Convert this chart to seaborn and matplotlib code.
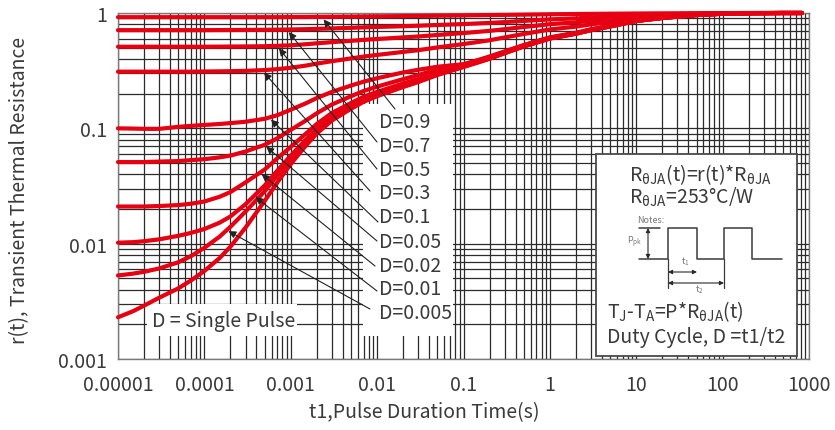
import numpy as np
import pandas as pd
import matplotlib
matplotlib.use("Agg")
import matplotlib.pyplot as plt
from matplotlib.patches import Rectangle
from matplotlib.lines import Line2D
from matplotlib.ticker import FixedLocator, FixedFormatter, LogLocator, NullFormatter
import seaborn as sns

# Pulse duration (s)
pulse_time = [1e-5, 1.5e-5, 2e-5, 3e-5, 5e-5, 7e-5,
              1e-4, 1.5e-4, 2e-4, 3e-4, 5e-4, 7e-4,
              1e-3, 1.5e-3, 2e-3, 3e-3, 5e-3, 7e-3,
              1e-2, 2e-2, 3e-2, 5e-2,
              0.1, 0.2, 0.3, 0.5,
              1, 2, 3, 5, 10, 20, 50, 100, 200, 500, 826]

# Normalised transient thermal resistance r(t) for each duty cycle
r_d090 = [0.92, 0.92, 0.92, 0.92, 0.92, 0.92,
          0.92, 0.92, 0.92, 0.92, 0.92, 0.92,
          0.922, 0.923, 0.925, 0.927, 0.93, 0.933,
          0.935, 0.94, 0.943, 0.947,
          0.953, 0.96, 0.963, 0.968,
          0.975, 0.98, 0.983, 0.986, 0.99, 0.993, 0.996, 0.998, 1.0, 1.0, 1.0]
r_d070 = [0.71, 0.71, 0.71, 0.71, 0.71, 0.71,
          0.71, 0.711, 0.712, 0.713, 0.715, 0.717,
          0.72, 0.724, 0.728, 0.735, 0.744, 0.751,
          0.757, 0.768, 0.776, 0.787,
          0.802, 0.82, 0.834, 0.854,
          0.88, 0.898, 0.913, 0.929, 0.956, 0.972, 0.988, 0.996, 0.999, 1.0, 1.0]
r_d050 = [0.51, 0.51, 0.51, 0.51, 0.51, 0.51,
          0.51, 0.511, 0.512, 0.513, 0.515, 0.519,
          0.525, 0.536, 0.546, 0.559, 0.574, 0.585,
          0.595, 0.614, 0.626, 0.645,
          0.67, 0.70, 0.724, 0.756,
          0.80, 0.83, 0.855, 0.882, 0.926, 0.953, 0.98, 0.993, 0.998, 1.0, 1.0]
r_d030 = [0.31, 0.31, 0.31, 0.31, 0.31, 0.31,
          0.311, 0.312, 0.313, 0.315, 0.32, 0.326,
          0.335, 0.35, 0.364, 0.382, 0.404, 0.419,
          0.433, 0.46, 0.476, 0.503,
          0.538, 0.58, 0.614, 0.658,
          0.72, 0.762, 0.797, 0.835, 0.896, 0.934, 0.972, 0.99, 0.997, 1.0, 1.0]
r_d010 = [0.100, 0.0995, 0.099, 0.099, 0.103, 0.105,
          0.107, 0.109, 0.111, 0.114, 0.121, 0.13,
          0.145, 0.165, 0.183, 0.207, 0.235, 0.254,
          0.272, 0.305, 0.322, 0.342,
          0.36, 0.415, 0.46, 0.525,
          0.612, 0.67, 0.72, 0.772, 0.858, 0.909, 0.962, 0.986, 0.996, 1.0, 1.0]
r_d005 = [0.051, 0.051, 0.051, 0.0515, 0.052, 0.053,
          0.054, 0.056, 0.058, 0.063, 0.072, 0.082,
          0.097, 0.117, 0.135, 0.161, 0.19, 0.211,
          0.23, 0.267, 0.29, 0.325,
          0.355, 0.42, 0.465, 0.528,
          0.615, 0.674, 0.722, 0.776, 0.86, 0.91, 0.962, 0.986, 0.995, 1.0, 1.0]
r_d002 = [0.021, 0.021, 0.021, 0.0212, 0.0216, 0.0222,
          0.0232, 0.0255, 0.028, 0.034, 0.044, 0.055,
          0.069, 0.09, 0.109, 0.136, 0.166, 0.188,
          0.207, 0.245, 0.268, 0.305,
          0.35, 0.41, 0.457, 0.52,
          0.608, 0.667, 0.716, 0.769, 0.855, 0.907, 0.961, 0.985, 0.995, 1.0, 1.0]
r_d001 = [0.0102, 0.0103, 0.0105, 0.0109, 0.0117, 0.0124,
          0.0134, 0.0152, 0.0172, 0.022, 0.032, 0.043,
          0.058, 0.08, 0.099, 0.126, 0.157, 0.179,
          0.199, 0.237, 0.26, 0.298,
          0.346, 0.405, 0.452, 0.516,
          0.604, 0.663, 0.713, 0.766, 0.853, 0.906, 0.96, 0.985, 0.995, 1.0, 1.0]
r_d0005 = [0.0053, 0.0055, 0.0057, 0.0061, 0.0069, 0.0078,
           0.0092, 0.0115, 0.014, 0.019, 0.0285, 0.039,
           0.054, 0.076, 0.095, 0.121, 0.152, 0.174,
           0.194, 0.232, 0.256, 0.294,
           0.343, 0.403, 0.45, 0.514,
           0.602, 0.662, 0.711, 0.765, 0.853, 0.905, 0.96, 0.985, 0.995, 1.0, 1.0]
r_single = [0.0023, 0.0026, 0.0029, 0.0034, 0.0041, 0.0048,
            0.0058, 0.0075, 0.0094, 0.0138, 0.0235, 0.034,
            0.049, 0.071, 0.09, 0.117, 0.148, 0.17,
            0.19, 0.228, 0.252, 0.29,
            0.34, 0.40, 0.448, 0.512,
            0.60, 0.66, 0.71, 0.764, 0.852, 0.905, 0.96, 0.985, 0.995, 1.0, 1.0]

duty_labels = ["D=0.9", "D=0.7", "D=0.5", "D=0.3", "D=0.1",
               "D=0.05", "D=0.02", "D=0.01", "D=0.005"]
duty_series = [r_d090, r_d070, r_d050, r_d030, r_d010, r_d005, r_d002, r_d001, r_d0005]
# pulse time at which each label's arrow meets its curve
arrow_time = [2.4e-3, 9.5e-4, 7.3e-4, 4.9e-4, 5.9e-4, 5.2e-4, 4.6e-4, 3.9e-4, 1.9e-4]

x_ticks = [1e-5, 1e-4, 1e-3, 1e-2, 1e-1, 1, 10, 100, 1000]
x_tick_labels = ["0.00001", "0.0001", "0.001", "0.01", "0.1", "1", "10", "100", "1000"]
y_ticks = [0.001, 0.01, 0.1, 1]
y_tick_labels = ["0.001", "0.01", "0.1", "1"]

RED = "#e60012"
INK = "#3a3a3a"
GRID = "#2b2b2b"

sns.set_theme(style="white")
plt.rcParams["font.family"] = ["Noto Sans CJK SC", "DejaVu Sans"]
plt.rcParams["font.weight"] = "light"
plt.rcParams["axes.unicode_minus"] = False

frames = []
for name, vals in zip(duty_labels + ["Single"], duty_series + [r_single]):
    frames.append(pd.DataFrame({"t": pulse_time, "r": vals, "curve": name}))
df = pd.concat(frames, ignore_index=True)

fig = plt.figure(figsize=(8.35, 4.31), dpi=100)
ax = fig.add_axes([118 / 835, 1 - 360 / 431, 691 / 835, 346 / 431])

ax.set_xscale("log")
ax.set_yscale("log")
ax.set_xlim(1e-5, 1000)
ax.set_ylim(1e-3, 1)

# dense log grid
ax.set_axisbelow(True)
ax.xaxis.set_minor_locator(LogLocator(base=10, subs=np.arange(2, 10), numticks=50))
ax.yaxis.set_minor_locator(LogLocator(base=10, subs=np.arange(2, 10), numticks=50))
ax.xaxis.set_minor_formatter(NullFormatter())
ax.yaxis.set_minor_formatter(NullFormatter())
ax.grid(True, which="both", color=GRID, lw=0.9)

ax.xaxis.set_major_locator(FixedLocator(x_ticks))
ax.xaxis.set_major_formatter(FixedFormatter(x_tick_labels))
ax.yaxis.set_major_locator(FixedLocator(y_ticks))
ax.yaxis.set_major_formatter(FixedFormatter(y_tick_labels))
ax.tick_params(axis="both", which="both", length=0, labelsize=14, labelcolor=INK)
ax.tick_params(axis="x", pad=11)
ax.tick_params(axis="y", pad=8)
for sp in ax.spines.values():
    sp.set_color("#7a7a7a")
    sp.set_linewidth(1.0)

# convert pixel-like layout positions to axes fractions
def fx(px):
    return (px - 118) / 691.0

def fy(py):
    return (360 - py) / 346.0

# white label panels that mask the grid
ax.add_patch(Rectangle((fx(363), fy(337)), fx(453) - fx(363), fy(105) - fy(337),
                       transform=ax.transAxes, facecolor="white", edgecolor="none", zorder=1))
ax.add_patch(Rectangle((fx(147), fy(337)), fx(297) - fx(147), fy(305) - fy(337),
                       transform=ax.transAxes, facecolor="white", edgecolor="none", zorder=1))

sns.lineplot(data=df, x="t", y="r", hue="curve", palette={c: RED for c in df["curve"].unique()},
             estimator=None, sort=False, legend=False, lw=3.0, ax=ax, zorder=3)
for ln in ax.get_lines():
    ln.set_clip_on(False)
    ln.set_solid_capstyle("round")
    ln.set_solid_joinstyle("round")

ax.set_xlabel("")
ax.set_ylabel("")

# duty-cycle labels with leader arrows
label_y = [123, 147, 171, 194, 218, 243, 266, 290, 314]
tail_xy = [(395, 110), (377, 143), (377, 170), (370, 192), (378, 223),
           (377, 242), (375, 267), (377, 292), (370, 310)]
log_t = np.log10(pulse_time)
for lab, vals, ta, ly, (tx, ty) in zip(duty_labels, duty_series, arrow_time, label_y, tail_xy):
    ax.text(fx(379), fy(ly), lab, transform=ax.transAxes, fontsize=14, color=INK,
            ha="left", va="center", zorder=5)
    r_tip = 10 ** np.interp(np.log10(ta), log_t, np.log10(vals)) * 0.95
    ax.annotate("", xy=(ta, r_tip), xycoords="data",
                xytext=(fx(tx), fy(ty)), textcoords="axes fraction",
                arrowprops=dict(arrowstyle="-|>", color="#222222", lw=0.8,
                                mutation_scale=11, shrinkA=0, shrinkB=0),
                zorder=6)

ax.text(fx(152), fy(322), "D = Single Pulse", transform=ax.transAxes, fontsize=14,
        color=INK, ha="left", va="center", zorder=5)

# inset note panel
ax.add_patch(Rectangle((fx(596), fy(357)), fx(797) - fx(596), fy(155) - fy(357),
                       transform=ax.transAxes, facecolor="white", edgecolor="#4a4a4a",
                       lw=1.3, zorder=4))

def note(px, py, s, size=14, color=INK, va="baseline", ha="left"):
    ax.text(fx(px), fy(py), s, transform=ax.transAxes, fontsize=size, color=color,
            ha=ha, va=va, zorder=7)

SUB = r"$\mathregular{_{θJA}}$"
note(629, 181, "R" + SUB + "(t)=r(t)*R" + SUB, size=14)
note(629, 204, "R" + SUB + "=253°C/W", size=14)
note(637, 223, "Notes:", size=6.5, color="#777777")
note(627, 245, r"P$\mathregular{_{pk}}$", size=6.5, color="#777777")
note(681, 264, r"t$\mathregular{_{1}}$", size=6.5, color="#777777")
note(695, 293, r"t$\mathregular{_{2}}$", size=6.5, color="#777777")
note(607, 318, r"T$\mathregular{_{J}}$-T$\mathregular{_{A}}$=P*R" + SUB + "(t)", size=14)
note(607, 343, "Duty Cycle, D =t1/t2", size=14)

wave_x = [639, 668, 668, 697, 697, 724, 724, 752, 752, 782]
wave_y = [260, 260, 229, 229, 260, 260, 229, 229, 260, 260]
def seg(xs, ys, lw=1.1):
    ax.add_line(Line2D([fx(v) for v in xs], [fy(v) for v in ys], transform=ax.transAxes,
                       color="#3a3a3a", lw=lw, zorder=7))

seg(wave_x, wave_y)
seg([639, 660], [229, 229])
seg([668, 668], [260, 289], lw=0.9)
seg([724, 724], [260, 289], lw=0.9)

def dbl_arrow(p0, p1):
    ax.annotate("", xy=(fx(p1[0]), fy(p1[1])), xycoords="axes fraction",
                xytext=(fx(p0[0]), fy(p0[1])), textcoords="axes fraction",
                arrowprops=dict(arrowstyle="<|-|>", color="#2a2a2a", lw=0.8,
                                mutation_scale=6, shrinkA=0, shrinkB=0), zorder=8)

dbl_arrow((648, 229), (648, 260))
dbl_arrow((668, 273), (697, 273))
dbl_arrow((668, 284), (724, 284))

# axis titles
fig.text(20 / 835, 1 - 190 / 431, "r(t), Transient Thermal Resistance", rotation=90,
         fontsize=14, color=INK, ha="center", va="center")
fig.text(424 / 835, 1 - 413 / 431, "t1,Pulse Duration Time(s)", fontsize=14,
         color=INK, ha="center", va="center")

fig.savefig("out.png", dpi=100, facecolor="white")
